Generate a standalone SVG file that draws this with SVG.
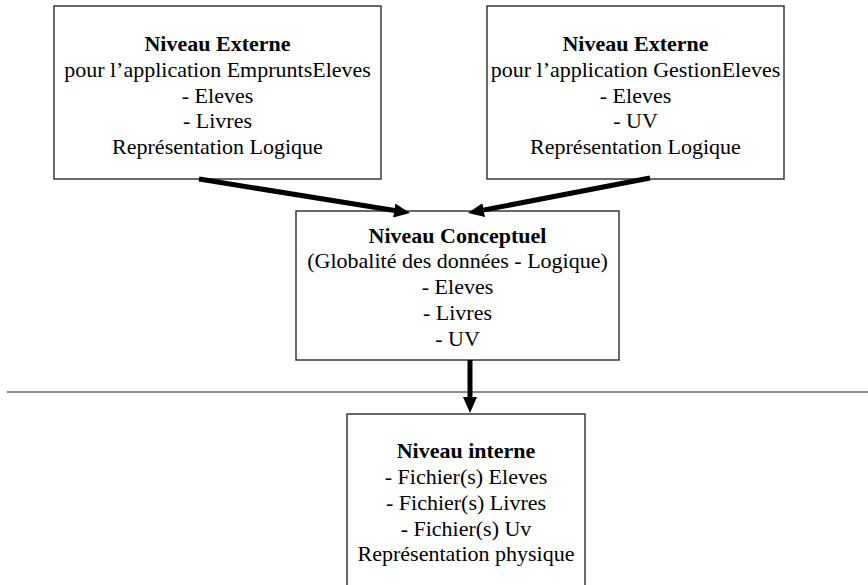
<svg xmlns="http://www.w3.org/2000/svg" width="868" height="585" viewBox="0 0 868 585">
  <style>
    .box { fill: #ffffff; stroke: #2a2a2a; stroke-width: 1.4; }
    .txt { font-family: "Liberation Serif", "Times New Roman", serif; font-size: 22px; fill: #000; text-anchor: middle; }
    .title { font-weight: bold; }
    .conn { stroke: #000; stroke-width: 5; fill: none; marker-end: url(#head); }
    .sep { stroke: #666; stroke-width: 1.6; }
  </style>
  <defs>
    <marker id="head" markerUnits="userSpaceOnUse" viewBox="0 0 16 14" markerWidth="16" markerHeight="14" refX="2" refY="7" orient="auto">
      <path d="M0,0 L16,7 L0,14 z" fill="#000"/>
    </marker>
  </defs>

  <rect width="868" height="585" fill="#ffffff"/>

  <!-- separator between logical and physical levels -->
  <line class="sep" x1="7" y1="392" x2="868" y2="392"/>

  <g id="externe-emprunts">
    <rect class="box" x="54" y="6" width="327" height="173"/>
    <text class="txt title" x="217.5" y="51">Niveau Externe</text>
    <text class="txt" x="217.5" y="77">pour l’application EmpruntsEleves</text>
    <text class="txt" x="217.5" y="103">- Eleves</text>
    <text class="txt" x="217.5" y="128">- Livres</text>
    <text class="txt" x="217.5" y="154">Représentation Logique</text>
  </g>

  <g id="externe-gestion">
    <rect class="box" x="487" y="6" width="297" height="173"/>
    <text class="txt title" x="635.5" y="51">Niveau Externe</text>
    <text class="txt" x="635.5" y="77">pour l’application GestionEleves</text>
    <text class="txt" x="635.5" y="103">- Eleves</text>
    <text class="txt" x="635.5" y="128">- UV</text>
    <text class="txt" x="635.5" y="154">Représentation Logique</text>
  </g>

  <g id="conceptuel">
    <rect class="box" x="296" y="211" width="323" height="149"/>
    <text class="txt title" x="457.5" y="243">Niveau Conceptuel</text>
    <text class="txt" x="457.5" y="268">(Globalité des données - Logique)</text>
    <text class="txt" x="457.5" y="294">- Eleves</text>
    <text class="txt" x="457.5" y="320">- Livres</text>
    <text class="txt" x="457.5" y="346">- UV</text>
  </g>

  <g id="interne">
    <rect class="box" x="347" y="414" width="238" height="190"/>
    <text class="txt title" x="466" y="458">Niveau interne</text>
    <text class="txt" x="466" y="484">- Fichier(s) Eleves</text>
    <text class="txt" x="466" y="510">- Fichier(s) Livres</text>
    <text class="txt" x="466" y="536">- Fichier(s) Uv</text>
    <text class="txt" x="466" y="561">Représentation physique</text>
  </g>

  <g id="connectors">
    <line class="conn" x1="199" y1="179" x2="396.2" y2="210.8"/>
    <line class="conn" x1="650" y1="178" x2="481.7" y2="210.4"/>
    <line class="conn" x1="470" y1="360" x2="470" y2="399"/>
  </g>
</svg>
